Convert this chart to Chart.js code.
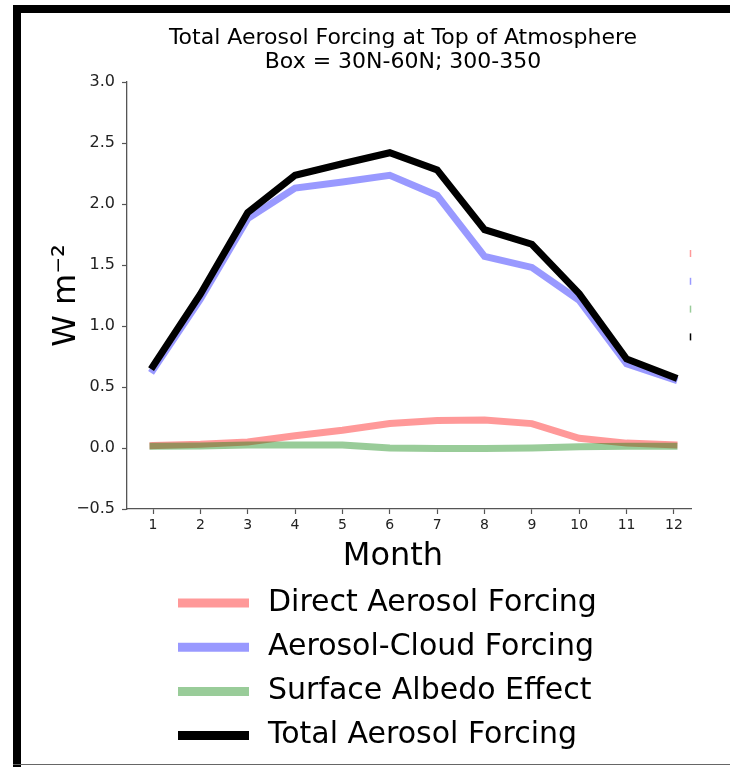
<!DOCTYPE html>
<html>
<head>
<meta charset="utf-8">
<script src="https://cdn.jsdelivr.net/npm/chart.js@4.4.1/dist/chart.umd.min.js"></script>
<style>
  html, body { margin: 0; padding: 0; background: #fff; }
  #wrap { position: relative; width: 730px; height: 767px; overflow: hidden; }
  #chart { position: absolute; left: 0; top: 0; }
  .frame { position: absolute; background: #000; }
</style>
</head>
<body>
<div id="wrap">
  <canvas id="chart" width="730" height="767"></canvas>
  <div class="frame" style="left:13px;top:5px;width:717px;height:8px"></div>
  <div class="frame" style="left:13px;top:5px;width:8px;height:762px"></div>
  <div class="frame" style="left:13px;top:764px;width:717px;height:1px;background:#666"></div>
</div>
<script>
// Data
const months = [1, 2, 3, 4, 5, 6, 7, 8, 9, 10, 11, 12]
const directForcing = [0.02, 0.03, 0.05, 0.10, 0.145, 0.2, 0.225, 0.23, 0.2, 0.08, 0.04, 0.025]
const cloudForcing = [0.64, 1.22, 1.88, 2.13, 2.18, 2.235, 2.07, 1.57, 1.48, 1.21, 0.69, 0.56]
const albedoEffect = [0.015, 0.016, 0.025, 0.025, 0.025, 0.0, -0.005, -0.005, 0.0, 0.01, 0.015, 0.015]
const totalForcing = [0.67, 1.26, 1.93, 2.235, 2.33, 2.42, 2.28, 1.79, 1.67, 1.265, 0.73, 0.58]
const yTicks = [-0.5, 0, 0.5, 1, 1.5, 2, 2.5, 3]

const titleLines = ["Total Aerosol Forcing at Top of Atmosphere", "Box = 30N-60N; 300-350"]
const FONT = "'DejaVu Sans', sans-serif"

function toPoints(values) {
  return values.map((v, i) => ({ x: months[i], y: v }))
}

function lineSet(label, values, color, order) {
  return {
    label: label,
    data: toPoints(values),
    borderColor: color,
    borderWidth: 7,
    borderCapStyle: "square",
    pointRadius: 0,
    tension: 0,
    fill: false,
    order: order,
  }
}

// Title, x label and legend drawn where the figure has them
const figureText = {
  id: "figureText",
  afterDraw(chart) {
    const ctx = chart.ctx
    ctx.save()
    ctx.fillStyle = "#000"
    ctx.textBaseline = "middle"

    ctx.textAlign = "center"
    ctx.font = "22px " + FONT
    ctx.fillText(titleLines[0], 403, 38)
    ctx.fillText(titleLines[1], 403, 62)

    ctx.font = "32px " + FONT
    ctx.fillText("Month", 393, 557)

    // legend
    ctx.textAlign = "left"
    ctx.font = "30px " + FONT
    chart.data.datasets.forEach((ds, i) => {
      const y = 603 + i * 44.2
      ctx.strokeStyle = ds.borderColor
      ctx.lineWidth = 9
      ctx.beginPath()
      ctx.moveTo(178, y)
      ctx.lineTo(249, y)
      ctx.stroke()
      ctx.fillStyle = "#000"
      ctx.fillText(ds.label, 268, y)

      // clipped edge of the second legend on the right
      ctx.lineWidth = 1.5
      ctx.beginPath()
      ctx.moveTo(690.5, 250 + i * 27.8)
      ctx.lineTo(690.5, 257 + i * 27.8)
      ctx.stroke()
    })
    ctx.restore()
  },
}

const ctx = document.getElementById("chart").getContext("2d")

const chart = new Chart(ctx, {
  type: "line",
  data: {
    datasets: [
      lineSet("Direct Aerosol Forcing", directForcing, "rgba(255, 0, 0, 0.4)", 4),
      lineSet("Aerosol-Cloud Forcing", cloudForcing, "rgba(0, 0, 255, 0.4)", 3),
      lineSet("Surface Albedo Effect", albedoEffect, "rgba(0, 128, 0, 0.4)", 2),
      lineSet("Total Aerosol Forcing", totalForcing, "#000000", 1),
    ],
  },
  options: {
    responsive: false,
    animation: false,
    devicePixelRatio: 1,
    layout: { padding: { top: 82, right: 39, bottom: 0, left: 0 } },
    plugins: {
      legend: { display: false },
      tooltip: { enabled: false },
      title: { display: false },
    },
    scales: {
      x: {
        type: "linear",
        min: 0.451,
        max: 12.36,
        afterBuildTicks: (scale) => {
          scale.ticks = months.map((m) => ({ value: m }))
        },
        afterFit: (scale) => {
          scale.height = 258
        },
        ticks: {
          font: { family: FONT, size: 14 },
          color: "#222",
          padding: 3,
          maxRotation: 0,
          autoSkip: false,
        },
        grid: {
          drawOnChartArea: false,
          tickLength: 5,
          color: "#555",
          tickWidth: 1.2,
        },
        border: { color: "#555", width: 1.3 },
      },
      y: {
        min: -0.5,
        max: 3,
        afterBuildTicks: (scale) => {
          scale.ticks = yTicks.map((v) => ({ value: v }))
        },
        afterFit: (scale) => {
          scale.width = 127
        },
        ticks: {
          font: { family: FONT, size: 16 },
          color: "#222",
          padding: 7,
          callback: (v) => v.toFixed(1).replace("-", "\u2212"),
        },
        grid: {
          drawOnChartArea: false,
          tickLength: 5,
          color: "#555",
          tickWidth: 1.2,
        },
        border: { color: "#555", width: 1.3 },
        title: {
          display: true,
          text: "W m\u207B\u00B2",
          font: { family: FONT, size: 32 },
          color: "#000",
          padding: { top: 47, bottom: 0 },
        },
      },
    },
  },
  plugins: [figureText],
})
</script>
</body>
</html>
